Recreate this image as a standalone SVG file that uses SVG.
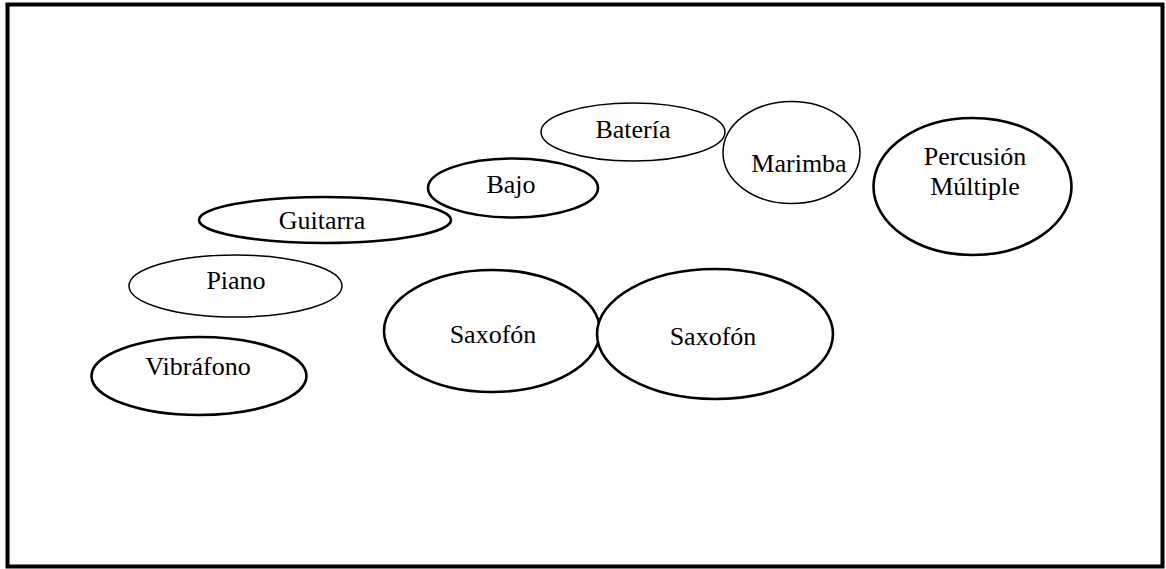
<svg xmlns="http://www.w3.org/2000/svg" width="1166" height="569" viewBox="0 0 1166 569">
<style>
.n ellipse{fill:#fff;stroke:#000}
.thick{stroke-width:2.6}
.thin{stroke-width:1.5}
text{font-family:"Liberation Serif","Times New Roman",serif;font-size:26px;fill:#000;text-anchor:middle}
</style>
<rect x="0" y="0" width="1166" height="569" fill="#fff"/>
<rect x="7.5" y="4.5" width="1155" height="562" fill="none" stroke="#000" stroke-width="4"/>
<g id="connectors"></g>
<g id="vibrafono" class="n"><ellipse class="thick" cx="199" cy="376" rx="107.5" ry="39"/><text x="198" y="375">Vibráfono</text></g>
<g id="piano" class="n"><ellipse class="thin" cx="235.5" cy="286" rx="106.5" ry="31"/><text x="236" y="289">Piano</text></g>
<g id="guitarra" class="n"><ellipse class="thick" cx="325" cy="220" rx="126" ry="23"/><text x="322" y="229">Guitarra</text></g>
<g id="bajo" class="n"><ellipse class="thick" cx="513" cy="188" rx="85" ry="29.5"/><text x="511" y="193">Bajo</text></g>
<g id="bateria" class="n"><ellipse class="thin" cx="633" cy="132" rx="92" ry="29"/><text x="633" y="138">Batería</text></g>
<g id="marimba" class="n"><ellipse class="thin" cx="791.5" cy="152.5" rx="68.5" ry="51"/><text x="799" y="172">Marimba</text></g>
<g id="percusion" class="n"><ellipse class="thick" cx="972.5" cy="186.5" rx="99" ry="68.5"/><text x="975" y="165">Percusión</text><text x="975" y="195">Múltiple</text></g>
<g id="saxofon1" class="n"><ellipse class="thick" cx="492" cy="331" rx="108" ry="61"/><text x="493" y="343">Saxofón</text></g>
<g id="saxofon2" class="n"><ellipse class="thick" cx="715" cy="334" rx="118" ry="65"/><text x="713" y="345">Saxofón</text></g>
</svg>
